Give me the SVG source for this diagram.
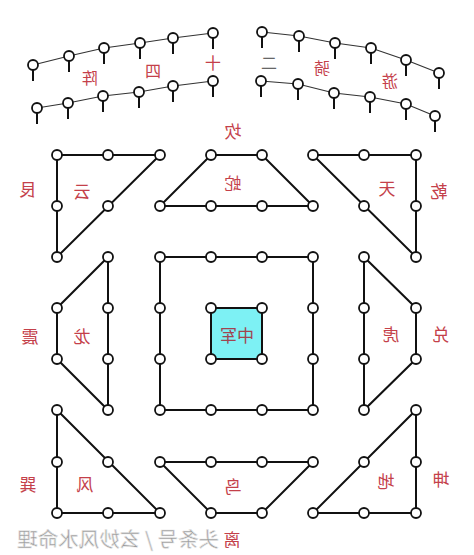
<svg xmlns="http://www.w3.org/2000/svg" xmlns:xlink="http://www.w3.org/1999/xlink" width="474" height="555" viewBox="0 0 474 555">
<style>
.sh{fill:none;stroke:#111;stroke-width:2;stroke-linejoin:miter}
.nd{fill:#fff;stroke:#111;stroke-width:1.8}
.arc{fill:none;stroke:#333;stroke-width:1.2}
.lb{font-family:"Noto Sans CJK SC","Noto Sans",sans-serif;font-size:17px;fill:#c4404a;text-anchor:middle;dominant-baseline:central}
.al{font-family:"Noto Sans CJK SC","Noto Sans",sans-serif;font-size:16px;fill:#c4404a;text-anchor:middle;dominant-baseline:central}
.wm{font-family:"Noto Sans CJK SC","Noto Sans",sans-serif;font-size:20.5px;fill:#9a9a9a;stroke:#e8e8e8;stroke-width:0.6;dominant-baseline:central}
</style>
<defs>
<g id="pin"><line x1="0" y1="5" x2="0" y2="16" stroke="#111" stroke-width="2"/><circle cx="0" cy="0" r="5" class="nd"/></g>
</defs>
<rect width="474" height="555" fill="#fff"/>

<g id="connectors">
<polyline class="arc" points="33,65 69,56 104,48 140,43 173,38 213,33"/>
<polyline class="arc" points="37,108 68,103 103,96 139,92 173,86 213,81"/>
<polyline class="arc" points="262,32 299,36 335,43 371,48 406,60 439,73"/>
<polyline class="arc" points="261,81 298,84 334,93 370,97 406,104 435,116"/>
</g>

<g id="arcs">
<use href="#pin" x="33" y="65"/><use href="#pin" x="69" y="56"/><use href="#pin" x="104" y="48"/><use href="#pin" x="140" y="43"/><use href="#pin" x="173" y="38"/><use href="#pin" x="213" y="33"/>
<use href="#pin" x="37" y="108"/><use href="#pin" x="68" y="103"/><use href="#pin" x="103" y="96"/><use href="#pin" x="139" y="92"/><use href="#pin" x="173" y="86"/><use href="#pin" x="213" y="81"/>
<use href="#pin" x="262" y="32"/><use href="#pin" x="299" y="36"/><use href="#pin" x="335" y="43"/><use href="#pin" x="371" y="48"/><use href="#pin" x="406" y="60"/><use href="#pin" x="439" y="73"/>
<use href="#pin" x="261" y="81"/><use href="#pin" x="298" y="84"/><use href="#pin" x="334" y="93"/><use href="#pin" x="370" y="97"/><use href="#pin" x="406" y="104"/><use href="#pin" x="435" y="116"/>
</g>

<g id="yun">
<polygon class="sh" points="57,155 160,155 57,257"/>
<circle class="nd" cx="57" cy="155" r="5"/><circle class="nd" cx="108" cy="155" r="5"/><circle class="nd" cx="160" cy="155" r="5"/><circle class="nd" cx="57" cy="206" r="5"/><circle class="nd" cx="108" cy="206" r="5"/><circle class="nd" cx="57" cy="257" r="5"/>
</g>
<g id="snake">
<polygon class="sh" points="211,155 262,155 313,206 160,206"/>
<circle class="nd" cx="211" cy="155" r="5"/><circle class="nd" cx="262" cy="155" r="5"/><circle class="nd" cx="160" cy="206" r="5"/><circle class="nd" cx="211" cy="206" r="5"/><circle class="nd" cx="262" cy="206" r="5"/><circle class="nd" cx="313" cy="206" r="5"/>
</g>
<g id="tian">
<polygon class="sh" points="313,155 416,155 416,257"/>
<circle class="nd" cx="313" cy="155" r="5"/><circle class="nd" cx="364" cy="155" r="5"/><circle class="nd" cx="416" cy="155" r="5"/><circle class="nd" cx="364" cy="206" r="5"/><circle class="nd" cx="416" cy="206" r="5"/><circle class="nd" cx="416" cy="257" r="5"/>
</g>
<g id="dragon">
<polygon class="sh" points="108,257 108,410 57,359 57,308"/>
<circle class="nd" cx="108" cy="257" r="5"/><circle class="nd" cx="108" cy="308" r="5"/><circle class="nd" cx="108" cy="359" r="5"/><circle class="nd" cx="108" cy="410" r="5"/><circle class="nd" cx="57" cy="308" r="5"/><circle class="nd" cx="57" cy="359" r="5"/>
</g>
<g id="square">
<rect class="sh" x="160" y="257" width="153" height="153"/>
<circle class="nd" cx="160" cy="257" r="5"/><circle class="nd" cx="211" cy="257" r="5"/><circle class="nd" cx="262" cy="257" r="5"/><circle class="nd" cx="313" cy="257" r="5"/>
<circle class="nd" cx="160" cy="308" r="5"/><circle class="nd" cx="313" cy="308" r="5"/><circle class="nd" cx="160" cy="359" r="5"/><circle class="nd" cx="313" cy="359" r="5"/>
<circle class="nd" cx="160" cy="410" r="5"/><circle class="nd" cx="211" cy="410" r="5"/><circle class="nd" cx="262" cy="410" r="5"/><circle class="nd" cx="313" cy="410" r="5"/>
</g>
<g id="center">
<rect x="211" y="308" width="51" height="51" fill="#7df1f4" stroke="#111" stroke-width="2"/>
<circle class="nd" cx="211" cy="308" r="5"/><circle class="nd" cx="262" cy="308" r="5"/><circle class="nd" cx="211" cy="359" r="5"/><circle class="nd" cx="262" cy="359" r="5"/>
</g>
<g id="tiger">
<polygon class="sh" points="364,257 416,308 416,359 364,410"/>
<circle class="nd" cx="364" cy="257" r="5"/><circle class="nd" cx="364" cy="308" r="5"/><circle class="nd" cx="364" cy="359" r="5"/><circle class="nd" cx="364" cy="410" r="5"/><circle class="nd" cx="416" cy="308" r="5"/><circle class="nd" cx="416" cy="359" r="5"/>
</g>
<g id="feng">
<polygon class="sh" points="57,410 160,513 57,513"/>
<circle class="nd" cx="57" cy="410" r="5"/><circle class="nd" cx="57" cy="462" r="5"/><circle class="nd" cx="57" cy="513" r="5"/><circle class="nd" cx="108" cy="462" r="5"/><circle class="nd" cx="108" cy="513" r="5"/><circle class="nd" cx="160" cy="513" r="5"/>
</g>
<g id="bird">
<polygon class="sh" points="160,462 313,462 262,513 211,513"/>
<circle class="nd" cx="160" cy="462" r="5"/><circle class="nd" cx="211" cy="462" r="5"/><circle class="nd" cx="262" cy="462" r="5"/><circle class="nd" cx="313" cy="462" r="5"/><circle class="nd" cx="211" cy="513" r="5"/><circle class="nd" cx="262" cy="513" r="5"/>
</g>
<g id="di">
<polygon class="sh" points="416,410 416,513 313,513"/>
<circle class="nd" cx="416" cy="410" r="5"/><circle class="nd" cx="416" cy="462" r="5"/><circle class="nd" cx="416" cy="513" r="5"/><circle class="nd" cx="364" cy="462" r="5"/><circle class="nd" cx="364" cy="513" r="5"/><circle class="nd" cx="313" cy="513" r="5"/>
</g>

<g id="labels" transform="translate(474,0) scale(-1,1)">
<text class="al" x="384" y="77">阵</text>
<text class="al" x="321" y="70">四</text>
<text class="al" x="261" y="62">十</text>
<text class="al" x="205" y="62" style="fill:#666">二</text>
<text class="al" x="152" y="67">骑</text>
<text class="al" x="84" y="80">游</text>
<text class="lb" x="241" y="130">坎</text>
<text class="lb" x="241" y="182">蛇</text>
<text class="lb" x="446" y="188">艮</text>
<text class="lb" x="392" y="190">云</text>
<text class="lb" x="87" y="187">天</text>
<text class="lb" x="35" y="190">乾</text>
<text class="lb" x="444" y="335">震</text>
<text class="lb" x="392" y="335">龙</text>
<text class="lb" x="237" y="334" style="fill:#a04450">中军</text>
<text class="lb" x="83" y="333">虎</text>
<text class="lb" x="33" y="333">兑</text>
<text class="lb" x="446" y="483">巽</text>
<text class="lb" x="389" y="483">风</text>
<text class="lb" x="241" y="485">鸟</text>
<text class="lb" x="88" y="480">地</text>
<text class="lb" x="33" y="478">坤</text>
<text class="lb" x="242" y="538">离</text>
<text class="wm" x="255" y="538">头条号 / 玄妙风水命理</text>
</g>
</svg>
